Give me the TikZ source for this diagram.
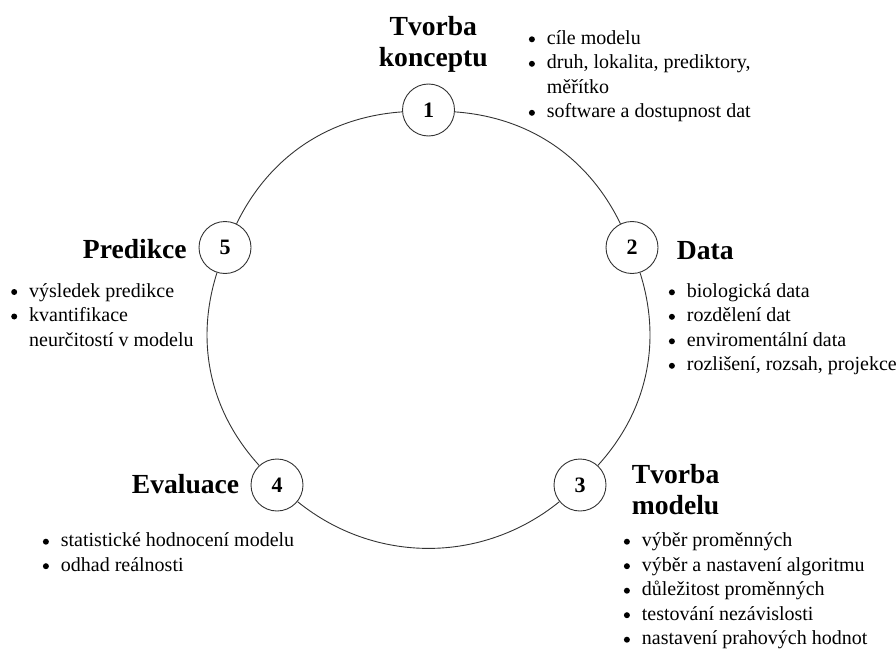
\documentclass[tikz,border=0pt]{standalone}
\usepackage{fontspec}
\setmainfont{Liberation Serif}
\newcommand{\bdot}{\hbox to 6.6pt{\hss\tikz[baseline=-5pt]\fill (0,0) circle (3pt);\hss}}
\newcommand{\blist}[1]{\begin{tabular}[t]{@{}l@{\hspace{11.7pt}}l@{}}#1\end{tabular}}
\newcommand{\tlines}[2]{\begin{tabular}[t]{@{}#1@{}}#2\end{tabular}}
\begin{document}
\begin{tikzpicture}[x=1pt,y=-1pt,
  stepnode/.style={circle, draw=black!80, line width=0.9pt, fill=white, minimum size=52pt, inner sep=0pt, font=\fontsize{22}{22}\selectfont\bfseries},
  link/.style={draw=black!80, line width=0.9pt},
  titletext/.style={inner sep=0pt, font=\fontsize{27.6}{31}\selectfont\bfseries},
  listtext/.style={inner sep=0pt, font=\fontsize{20}{24.5}\selectfont, anchor=base west}
]
\useasboundingbox (0,0) rectangle (896,650);

% step nodes
\node[stepnode] (n1) at (428.5,110) {1};
\node[stepnode] (n2) at (632,247.5) {2};
\node[stepnode] (n3) at (580,485) {3};
\node[stepnode] (n4) at (277,485) {4};
\node[stepnode] (n5) at (225,247.5) {5};

% cycle arcs
\draw[link] (n1) to[bend left=30, looseness=0.95] (n2);
\draw[link] (n2) to[bend left=30, looseness=0.95] (n3);
\draw[link] (n3) to[bend left=39, looseness=0.97] (n4);
\draw[link] (n4) to[bend left=30, looseness=0.95] (n5);
\draw[link] (n5) to[bend left=30, looseness=0.95] (n1);

% titles
\node[titletext, anchor=base] (t1) at (433.3,36) {\tlines{c}{Tvorba\\konceptu}};
\node[titletext, anchor=base west] (t2) at (676.7,259.3) {Data};
\node[titletext, anchor=base west] (t3) at (631.7,483.3) {\tlines{l}{Tvorba\\modelu}};
\node[titletext, anchor=base west] (t4) at (131.7,493.3) {Evaluace};
\node[titletext, anchor=base west] (t5) at (82.7,258.5) {Predikce};

% bullet lists
\node[listtext] (l1) at (528.4,44.3) {\blist{%
  \bdot & cíle modelu\\
  \bdot & druh, lokalita, prediktory,\\
   & měřítko\\
  \bdot & software a dostupnost dat}};
\node[listtext] (l2) at (668.4,297.3) {\blist{%
  \bdot & biologická data\\
  \bdot & rozdělení dat\\
  \bdot & enviromentální data\\
  \bdot & rozlišení, rozsah, projekce}};
\node[listtext] (l3) at (623.4,546.7) {\blist{%
  \bdot & výběr proměnných\\
  \bdot & výběr a nastavení algoritmu\\
  \bdot & důležitost proměnných\\
  \bdot & testování nezávislosti\\
  \bdot & nastavení prahových hodnot}};
\node[listtext] (l4) at (42.4,546.7) {\blist{%
  \bdot & statistické hodnocení modelu\\
  \bdot & odhad reálnosti}};
\node[listtext] (l5) at (10.7,297) {\blist{%
  \bdot & výsledek predikce\\
  \bdot & kvantifikace\\
   & neurčitostí v modelu}};
\end{tikzpicture}
\end{document}
